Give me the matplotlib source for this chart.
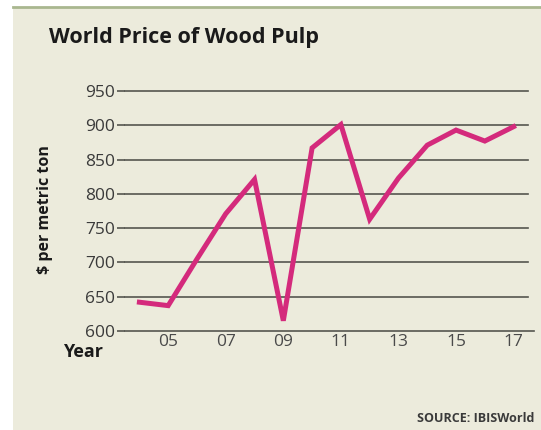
import matplotlib.pyplot as plt

plt.rcParams['font.family'] = ['Open Sans', 'DejaVu Sans']

years = [2004, 2005, 2006, 2007, 2008, 2009, 2010, 2011, 2012, 2013, 2014, 2015, 2016, 2017]
price = [642, 637, 705, 771, 821, 615, 867, 901, 763, 823, 871, 893, 877, 898]
tick_years = [2005, 2007, 2009, 2011, 2013, 2015, 2017]
tick_labels = ['05', '07', '09', '11', '13', '15', '17']
y_ticks = [600, 650, 700, 750, 800, 850, 900, 950]

bg = '#ECEBDC'
fig = plt.figure(figsize=(5.41, 4.30), dpi=100)
fig.patch.set_facecolor('white')

# beige panel with thin green top rule
panel = fig.add_axes([13/541, 0, 1 - 13/541, 1 - 8/430])
panel.set_facecolor(bg)
panel.set_xticks([])
panel.set_yticks([])
for s in panel.spines.values():
    s.set_visible(False)
fig.add_artist(plt.Line2D([13/541, 1], [1 - 7/430, 1 - 7/430], color='#A9B78F', lw=2))

ax = fig.add_axes([125/541, 99/430, 403/541, 240/430])
ax.set_facecolor('none')
for y in y_ticks[1:]:
    ax.axhline(y, color='#55554f', lw=1.2, zorder=1, clip_on=False)
# bottom rule runs a little past the grid
ax.plot([2003.5, 2017.7], [600, 600], color='#55554f', lw=1.2, zorder=1, clip_on=False)
ax.plot(years, price, color='#D42A7C', lw=3.6, solid_joinstyle='miter', zorder=3)

ax.set_xlim(2003.5, 2017.5)
ax.set_ylim(600, 950)
ax.set_yticks(y_ticks)
ax.set_xticks(tick_years)
ax.set_xticklabels(tick_labels)
ax.tick_params(axis='y', length=6, width=1.2, color='#55554f', pad=1,
               labelsize=12.5, labelcolor='#3a3a3a')
ax.tick_params(axis='x', length=0, pad=2, labelsize=12.5, labelcolor='#4a4a4a')
for s in ax.spines.values():
    s.set_visible(False)

fig.text(49/541, 1 - 37/430, 'World Price of Wood Pulp', fontsize=15.5,
         fontweight='bold', color='#1a1a1a', va='center', ha='left')
fig.text(45/541, 1 - 210/430, '$ per metric ton', fontsize=11.5, fontweight='bold',
         rotation=90, color='#1a1a1a', va='center', ha='center')
fig.text(83/541, 1 - 352/430, 'Year', fontsize=13, fontweight='bold',
         color='#1a1a1a', va='center', ha='center')
fig.text(534/541, 1 - 418/430, 'SOURCE: IBISWorld', fontsize=9, fontweight='bold',
         color='#3a3a3a', va='center', ha='right')

fig.savefig('out.png', dpi=100, facecolor=fig.get_facecolor())
